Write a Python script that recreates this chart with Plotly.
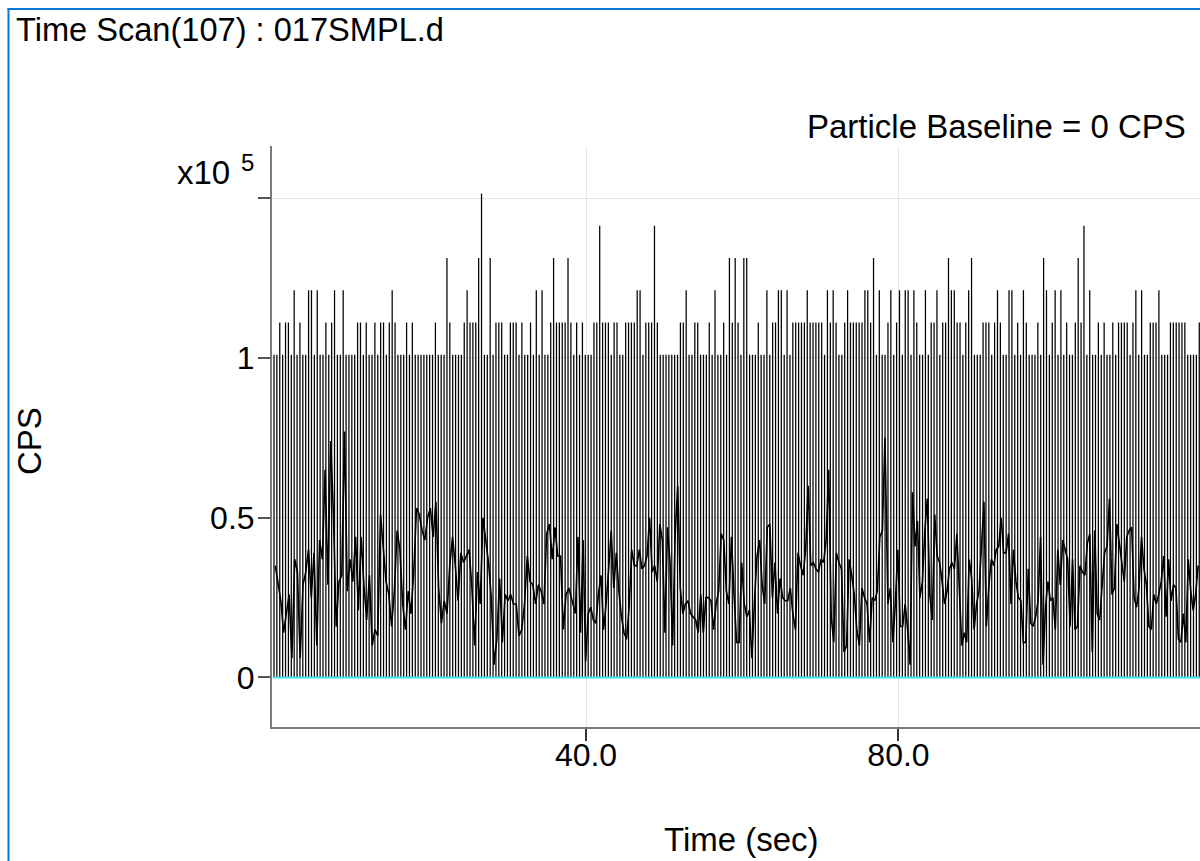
import numpy as np
import plotly.graph_objects as go

# ---------------- data ----------------
title_text = "Time Scan(107) : 017SMPL.d"
baseline_text = "Particle Baseline = 0 CPS"

dwell_s = 99e-6          # 1 count -> ~10101 CPS
scan_t0 = 0.056          # first reading (s)
scan_dt = 0.369          # spacing of the plotted readings (s)

# peak counts of each reading (CPS = counts / dwell)
spike_counts = [
    10, 10, 11, 10, 11, 11, 10, 12, 10, 11, 10, 10, 12, 12, 10, 12, 10, 10, 11, 10,
    11, 12, 10, 10, 12, 10, 10, 10, 10, 11, 11, 10, 11, 10, 10, 11, 10, 11, 11, 10,
    11, 12, 11, 10, 10, 10, 11, 10, 11, 10, 10, 10, 10, 10, 10, 10, 11, 10, 10, 10,
    13, 11, 10, 10, 10, 10, 11, 12, 11, 11, 11, 13, 15, 10, 10, 13, 10, 11, 11, 11,
    10, 10, 11, 11, 11, 10, 11, 10, 10, 11, 10, 12, 10, 12, 10, 10, 11, 13, 11, 11,
    11, 11, 13, 11, 10, 11, 10, 11, 10, 10, 10, 11, 11, 14, 11, 11, 11, 10, 11, 11,
    10, 10, 11, 11, 11, 11, 12, 12, 10, 11, 11, 11, 14, 11, 10, 10, 10, 10, 10, 10,
    10, 11, 11, 12, 10, 10, 11, 11, 10, 10, 10, 11, 10, 12, 10, 10, 11, 10, 13, 11,
    13, 11, 10, 13, 13, 10, 10, 10, 11, 10, 10, 12, 10, 11, 11, 12, 12, 10, 12, 10,
    11, 11, 11, 11, 11, 12, 11, 11, 11, 11, 11, 10, 12, 11, 12, 11, 10, 10, 11, 12,
    11, 11, 11, 11, 11, 12, 12, 11, 13, 10, 12, 10, 10, 11, 12, 10, 11, 12, 10, 12,
    12, 10, 12, 11, 10, 10, 12, 10, 11, 11, 12, 10, 11, 11, 13, 12, 12, 11, 11, 10,
    11, 12, 13, 10, 10, 10, 11, 11, 11, 10, 11, 12, 11, 10, 10, 12, 12, 10, 11, 10,
    12, 11, 10, 10, 10, 11, 10, 13, 12, 10, 11, 12, 10, 12, 10, 11, 10, 10, 11, 13,
    11, 14, 10, 12, 10, 10, 11, 10, 11, 10, 10, 11, 10, 11, 11, 11, 11, 10, 11, 12,
    10, 12, 10, 10, 11, 11, 11, 12, 10, 10, 10, 11, 11, 11, 11, 11, 11, 10, 10, 10,
    10, 11,
]

# background signal between particle events, in units of 1e4 CPS
noise_a_span = [0.22, 37.8]
noise_a = [
    3.5, 3.0, 2.4, 1.4, 2.0, 2.6, 0.6, 3.7, 3.3, 0.6,
    2.9, 3.3, 4.0, 2.5, 3.9, 1.0, 4.3, 3.7, 6.5, 2.9,
    7.4, 5.1, 1.6, 3.0, 3.2, 7.7, 2.7, 3.7, 3.0, 4.4,
    2.1, 4.4, 2.9, 1.8, 3.2, 1.0, 1.5, 1.3, 5.1, 4.1,
    3.0, 2.6, 1.6, 2.7, 4.6, 4.0, 2.3, 1.5, 2.7, 2.0,
    3.3, 5.3, 5.1, 4.6, 4.3, 5.0, 5.3, 4.4, 5.5, 2.8,
    1.7, 2.4, 2.0, 3.5, 4.4, 3.5, 2.4, 3.9, 3.6, 3.8,
    4.0, 2.8, 1.0, 3.3, 2.3, 5.0, 4.3, 3.6, 2.5, 0.4,
    1.2, 3.1, 1.1, 2.6, 2.4, 2.6, 2.3, 2.3, 1.3, 1.5,
    2.3, 3.8, 3.0, 2.9, 2.3, 2.9, 2.7, 2.3, 4.5, 4.8,
    3.7, 4.7, 3.8, 3.8, 1.5, 2.6, 2.8,
]
noise_b_span = [38.64, 78.27]
noise_b = [
    2.0, 4.4, 1.4, 4.3, 0.5, 2.0, 2.2, 1.8, 1.7, 2.6,
    3.2, 1.5, 2.3, 3.4, 4.6, 2.8, 3.9, 2.7, 1.9, 1.4,
    1.2, 2.2, 4.0, 3.5, 3.5, 4.0, 3.4, 3.5, 3.8, 5.0,
    3.3, 3.5, 3.0, 4.8, 4.3, 1.4, 4.7, 3.6, 1.0, 4.5,
    6.0, 2.8, 2.0, 2.3, 2.4, 2.0, 1.9, 1.8, 1.4, 2.6,
    1.4, 2.5, 2.5, 2.4, 1.5, 2.3, 2.7, 4.5, 4.3, 2.7,
    2.3, 4.4, 2.6, 1.1, 1.1, 3.6, 2.3, 1.9, 2.1, 0.6,
    2.4, 3.8, 4.3, 2.9, 2.3, 4.7, 4.8, 2.5, 3.6, 2.0,
    3.1, 2.5, 2.4, 2.4, 2.8, 2.0, 1.5, 3.9, 3.5, 3.2,
    4.0, 6.0, 3.5, 3.6, 3.4, 3.3, 3.7, 3.6, 4.3, 6.5,
    1.9, 1.1, 3.9, 3.6, 3.4, 0.8, 1.0, 3.7, 3.2, 2.6,
    1.5, 1.0, 2.8, 2.5, 2.3, 1.1, 2.5, 2.4, 2.7, 4.4,
    4.6, 7.5,
]
noise_c_span = [78.65, 118.36]
noise_c = [
    2.3, 2.8, 1.1, 2.3, 4.0, 1.6, 1.6, 2.3, 1.5, 0.4,
    5.8, 4.1, 4.9, 2.5, 3.0, 4.6, 5.6, 2.6, 1.8, 5.1,
    3.8, 3.6, 3.0, 2.3, 2.7, 3.4, 3.6, 3.4, 4.5, 2.5,
    1.0, 1.4, 1.1, 3.7, 3.1, 1.5, 2.3, 2.7, 4.0, 5.5,
    1.6, 2.9, 3.7, 3.5, 4.0, 4.1, 5.0, 3.9, 3.9, 4.5,
    2.3, 4.0, 3.0, 2.5, 2.4, 1.1, 1.1, 3.4, 1.7, 1.6,
    1.9, 2.4, 4.4, 0.4, 2.2, 3.0, 2.4, 2.5, 1.5, 4.0,
    2.9, 4.3, 4.0, 3.7, 1.6, 3.7, 1.5, 1.6, 3.5, 3.3,
    3.2, 4.2, 4.5, 0.8, 4.6, 2.0, 1.8, 2.9, 3.9, 4.1,
    5.6, 2.6, 2.8, 4.8, 4.2, 3.7, 3.0, 4.4, 4.6, 4.7,
    2.5, 2.2, 2.8, 4.4, 3.4, 2.9, 1.6, 1.5, 2.6, 2.3,
    2.6, 3.0, 3.8, 1.9, 3.7, 2.4, 2.9, 2.8, 1.2, 1.1,
    2.0, 1.1, 3.7, 2.7, 2.1, 2.6, 3.5,
]

y_tickvals = [0, 50000, 100000, 150000]
y_ticktext = ["0", "0.5", "1", ""]
x_tickvals = [40, 80, 120]
x_ticktext = ["40.0", "80.0", "120.0"]
x_range = [-0.2, 118.6]
y_range = [-15500, 166350]

# ---------------- build traces ----------------
n = len(spike_counts)
spike_t = scan_t0 + scan_dt * np.arange(n)
spike_cps = np.array(spike_counts) / dwell_s

sx, sy = [], []
for t, v in zip(spike_t, spike_cps):
    sx += [t, t, None]
    sy += [0, v, None]

nx, ny = [], []
for span, vals in ((noise_a_span, noise_a), (noise_b_span, noise_b), (noise_c_span, noise_c)):
    nx += list(np.linspace(span[0], span[1], len(vals)))
    ny += [v * 1e4 for v in vals]

fig = go.Figure()
fig.add_trace(go.Scatter(x=sx, y=sy, mode="lines",
                         line=dict(color="#000000", width=1.25), hoverinfo="skip"))
fig.add_trace(go.Scatter(x=nx, y=ny, mode="lines",
                         line=dict(color="#000000", width=1.6), hoverinfo="skip"))
fig.add_trace(go.Scatter(x=[spike_t[0], 125], y=[0, 0], mode="lines",
                         line=dict(color="#3fe6ef", width=2), hoverinfo="skip"))

W, H = 1200, 861
L, R, T, B = 272, 0, 146, 134
PW, PH = W - L - R, H - T - B


def px(x):
    return (x - L) / PW


def py(y):
    return (H - B - y) / PH


FONT = "Liberation Sans, Arial, sans-serif"
fig.update_layout(
    width=W, height=H, autosize=False,
    margin=dict(l=L, r=R, t=T, b=B, pad=0),
    paper_bgcolor="white", plot_bgcolor="white",
    showlegend=False,
    font=dict(family=FONT, size=32, color="black"),
    xaxis=dict(range=x_range, tickvals=x_tickvals, ticktext=x_ticktext,
               ticks="outside", ticklen=12, tickwidth=1.5, tickcolor="#333333",
               showline=True, linecolor="#7a7a7a", linewidth=2,
               showgrid=True, gridcolor="#e4e4e4", gridwidth=1,
               zeroline=False, tickfont=dict(size=32), ticklabelstandoff=-13),
    yaxis=dict(range=y_range, tickvals=y_tickvals, ticktext=y_ticktext,
               ticks="outside", ticklen=12, tickwidth=1.5, tickcolor="#555555",
               showline=True, linecolor="#7a7a7a", linewidth=2,
               showgrid=True, gridcolor="#e4e4e4", gridwidth=1,
               zeroline=False, tickfont=dict(size=32), ticklabelstandoff=-3),
)

ann = [
    dict(text=title_text, x=px(14), y=py(30), xanchor="left", yanchor="middle",
         font=dict(size=32.6)),
    dict(text=baseline_text, x=px(1188), y=py(126.5), xanchor="right", yanchor="middle"),
    dict(text="x10", x=px(175), y=py(172.5), xanchor="left", yanchor="middle"),
    dict(text="5", x=px(239), y=py(162.5), xanchor="left", yanchor="middle",
         font=dict(size=24)),
    dict(text="CPS", x=px(30), y=py(441), xanchor="center", yanchor="middle",
         textangle=-90),
    dict(text="Time (sec)", x=px(741), y=py(839), xanchor="center", yanchor="middle"),
]
for a in ann:
    a.update(xref="paper", yref="paper", showarrow=False)
    a.setdefault("font", dict(size=33))
    fig.add_annotation(**a)

blue = "#0a78d7"
fig.add_shape(type="line", xref="paper", yref="paper",
              x0=px(8.5), x1=px(8.5), y0=py(8), y1=py(900),
              line=dict(color=blue, width=2))
fig.add_shape(type="line", xref="paper", yref="paper",
              x0=px(7.5), x1=px(1250), y0=py(9), y1=py(9),
              line=dict(color=blue, width=2))

fig.write_html("out.html", config={"displayModeBar": False})
